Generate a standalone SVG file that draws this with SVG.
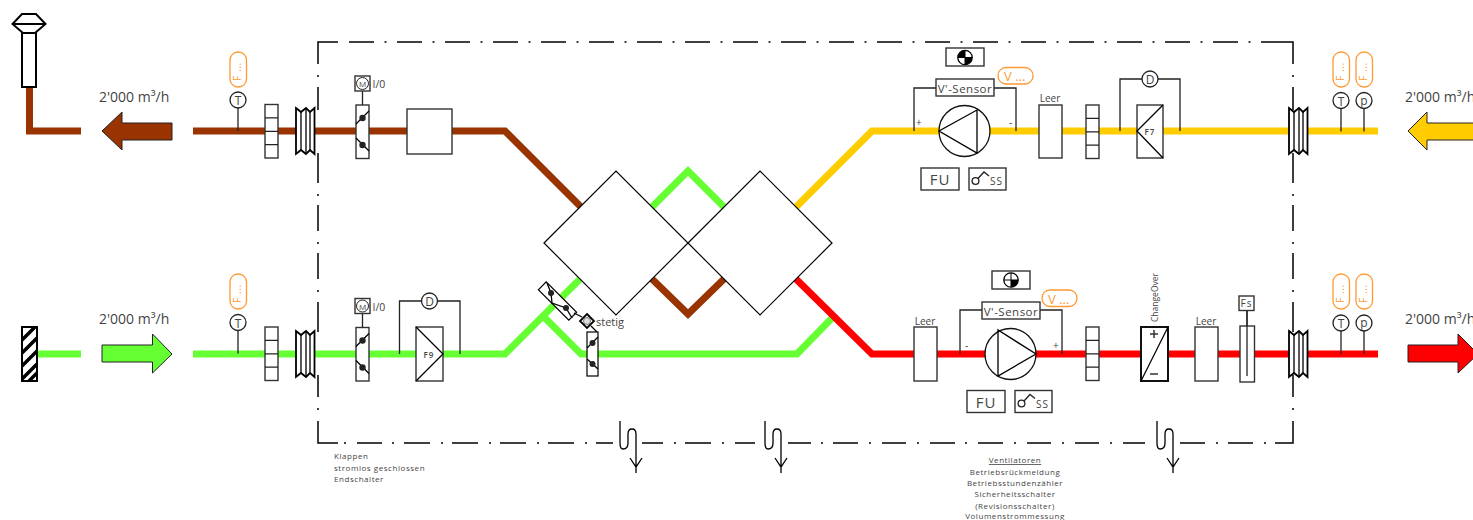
<svg xmlns="http://www.w3.org/2000/svg" xmlns:xlink="http://www.w3.org/1999/xlink" width="1473" height="520" viewBox="0 0 1473 520">
<style>
text{font-family:"Open Sans","Liberation Sans",sans-serif;fill:#444}
.duct{fill:none;stroke-width:7;stroke-linejoin:miter}
.br{stroke:#993300}.gr{stroke:#66ff33}.ye{stroke:#ffcc00}.re{stroke:#ff0000}
.box{fill:#fff;stroke:#333;stroke-width:1.4}
.thin{fill:none;stroke:#222;stroke-width:1.3}
.bk{fill:none;stroke:#000;stroke-width:1.3}
.hx{fill:#fff;stroke:#000;stroke-width:1.2}
.frame{fill:none;stroke:#000;stroke-width:1.5}
.dash{stroke-dasharray:25 10.5 2 10.5}
.cap{fill:#fff;stroke:#ff9933;stroke-width:1.3}
.capt{fill:#ff9933;font-size:10px}
.arr{stroke:#222;stroke-width:1}
.flow{font-size:14px}
.small{font-size:10px;text-anchor:middle}
.note{font-size:8px;letter-spacing:.55px}
.mid{text-anchor:middle}
</style>
<defs>
<g id="ladder"><rect class="box" x="0" y="0" width="13" height="53.5"/><path class="thin" d="M0 13.4H13M0 26.8H13M0 40.1H13"/></g>
<g id="bellows"><path fill="#fff" stroke="#000" stroke-width="1.8" d="M0 0L5 4 10 0 14 4 18.5 0V46L14 42 10 46 5 42 0 46Z"/><path class="bk" d="M5 4V42M10 0V46M14 4V42"/></g>
<g id="damper"><rect class="box" x="0" y="0" width="13" height="53.5"/><path class="bk" d="M0 19L13 6M0 33L13 46"/><circle cx="6.5" cy="13" r="3.2" fill="#222"/><circle cx="6.5" cy="40" r="3.2" fill="#222"/></g>
<g id="motor"><path class="thin" d="M7.5 15V29"/><rect x="0" y="0" width="15" height="15" class="box" stroke-width="1.6"/><circle cx="7.5" cy="7.5" r="6" fill="#fff" stroke="#222"/><text x="7.5" y="11" class="mid" font-size="8">M</text><text x="17.5" y="12" font-size="10.5">I/0</text></g>
<g id="cap"><rect class="cap" x="0" y="0" width="16.5" height="35" rx="8" ry="8"/><text class="capt" transform="translate(10.5 29) rotate(-90)" letter-spacing=".6">F ...</text></g>
<g id="vcap"><rect class="cap" x="0" y="0" width="35" height="16.5" rx="8" ry="8"/><text x="6" y="13.5" style="fill:#ff9933;font-size:13px">V ...</text></g>
<g id="cable"><path class="bk" d="M620 421V443Q620 449 623 449 628 449 628 443V434Q628 429 632 429 636 429 636 434V473M630 458L636 467 642 458"/></g>
<g id="ss"><rect class="box" x="0" y="0" width="37" height="22"/><circle cx="6.5" cy="13" r="3.4" fill="#fff" stroke="#222" stroke-width="1.3"/><path class="thin" d="M9 10.5L15 4 20 8"/><text x="21" y="17" font-size="10" letter-spacing="1">SS</text></g>
<g id="fu"><rect class="box" x="0" y="0" width="38" height="22"/><text x="19" y="17" class="mid" font-size="15" letter-spacing="1">FU</text></g>
<g id="sens"><path class="thin" d="M0 8V31"/><circle cx="0" cy="0" r="8" fill="#fff" stroke="#222" stroke-width="1.3"/></g>
</defs>

<g id="connectors">
<path class="duct br" d="M29.500 87V131H81"/>
<path class="duct br" d="M193 131H505L581 207"/>
<path class="duct gr" d="M38 354H81"/>
<path class="duct gr" d="M193 354H505L581 278"/>
<path class="duct gr" d="M543 316L581 354H797L832 318"/>
<path class="duct gr" d="M652 207L688 171 724 207"/>
<path class="duct br" d="M652 279L688 314 724 279"/>
<path class="duct ye" d="M796 207L872 131H1378"/>
<path class="duct re" d="M796 279L872 354H1378"/>
<path class="thin" d="M399.500 354V301H460V354"/>
<path class="thin" d="M914 131V88H1016V131"/>
<path class="thin" d="M960 354V310H1062V354"/>
<path class="thin" d="M1120 131V79H1180V131"/>
<path class="thin" d="M1247 310V376"/>
</g>

<g id="frame">
<path class="frame" d="M318 64V42H338"/>
<line class="frame dash" x1="349" y1="42" x2="1271" y2="42"/>
<path class="frame" d="M1271 42H1293V64"/>
<path class="frame" d="M318 75V77M318 87V110M318 153V183M318 194V196M318 205V231M318 242V244M318 253V279M318 290V292M318 302V332M318 375V397M318 408V410"/>
<path class="frame" d="M1293 75V77M1293 87V110M1293 153V183M1293 194V196M1293 205V231M1293 242V244M1293 253V279M1293 290V292M1293 302V332M1293 375V397M1293 408V410"/>
<path class="frame" d="M318 421V443H338M344 443H346M357 443H382M392 443H394M404 443H430M441 443H443M452 443H478M489 443H491M500 443H526M537 443H539M548 443H574M585 443H587M596 443H613M642 443H663M674 443H676M685 443H711M722 443H724M735 443H755M788 443H811M821 443H823M833 443H858M869 443H871M882 443H906M917 443H919M930 443H955M965 443H967M978 443H1003M1014 443H1016M1027 443H1051M1062 443H1064M1075 443H1099M1110 443H1112M1123 443H1145M1180 443H1205M1216 443H1218M1228 443H1253M1264 443H1266M1275 443H1293V421"/>
</g>

<g id="intake-hood"><path fill="#fff" stroke="#000" stroke-width="2" d="M22 33H36V87H22Z"/><path fill="#fff" stroke="#000" stroke-width="2" d="M12.500 24L22 14H36L45.500 24 35 33H23ZM12.500 24H45.500"/></g>
<g id="wall-grille"><rect x="22" y="327" width="15" height="54" fill="#fff" stroke="#000" stroke-width="2"/><path stroke="#000" stroke-width="3.500" d="M22 340L35 327M22 353L37 338M22 366L37 351M22 379L37 364M29 381L37 373"/></g>

<g id="arrow-exhaust"><polygon class="arr" fill="#993300" points="102,131 122,112 122,123 172,123 172,140 122,140 122,150"/></g>
<g id="arrow-outdoor"><polygon class="arr" fill="#66ff33" points="172,354 152.500,334 152.500,345 102,345 102,362 152.500,362 152.500,373"/></g>
<g id="arrow-extract"><polygon class="arr" fill="#ffcc00" points="1408,131 1427,112 1427,123 1480,123 1480,140 1427,140 1427,150"/></g>
<g id="arrow-supply"><polygon class="arr" fill="#ff0000" points="1478,354 1458,334 1458,345 1408,345 1408,362 1458,362 1458,373"/></g>
<g id="flow-labels">
<text class="flow" x="99" y="102">2'000 m³/h</text>
<text class="flow" x="99" y="324">2'000 m³/h</text>
<text class="flow" x="1405" y="102">2'000 m³/h</text>
<text class="flow" x="1405" y="324">2'000 m³/h</text>
</g>

<g id="exchanger">
<polygon class="hx" points="544,243 616,171 688,243 616,315"/>
<polygon class="hx" points="688,243 760,171 832,243 760,315"/>
</g>

<g id="sensor-t-ex"><use href="#cap" x="230" y="52"/><use href="#sens" x="238" y="100"/><text x="238" y="105" class="mid" font-size="12">T</text></g>
<g id="filter-ladder-ex"><use href="#ladder" x="265" y="104.500"/></g>
<g id="bellows-ex"><use href="#bellows" x="296" y="108"/></g>
<g id="damper-ex"><use href="#damper" x="356" y="105"/><use href="#motor" x="355" y="76"/></g>
<g id="heater-box"><rect class="box" x="407" y="109" width="45" height="45"/></g>

<g id="sensor-t-oa"><use href="#cap" x="230" y="274"/><use href="#sens" x="238" y="322.500"/><text x="238" y="327.500" class="mid" font-size="12">T</text></g>
<g id="filter-ladder-oa"><use href="#ladder" x="265" y="327"/></g>
<g id="bellows-oa"><use href="#bellows" x="296" y="331"/></g>
<g id="damper-oa"><use href="#damper" x="356" y="327.500"/><use href="#motor" x="355" y="298.500"/></g>
<g id="filter-f9"><circle cx="429.500" cy="301" r="8" fill="#fff" stroke="#222" stroke-width="1.3"/><text x="429.500" y="305.500" class="mid" font-size="12">D</text><rect class="box" x="416" y="327" width="27" height="54"/><path class="bk" d="M416 327L443 354 416 381"/><text x="429" y="358" class="mid" font-size="8" letter-spacing="1" font-weight="600">F9</text></g>

<g id="bypass-damper">
<rect class="hx" x="-5.500" y="-21.500" width="11" height="43" transform="translate(557.500 301) rotate(-45)"/>
<path class="bk" d="M547 283L551 293 552 303 566 308 572 318"/>
<circle cx="551" cy="293" r="3" fill="#222"/><circle cx="566" cy="308" r="3" fill="#222"/>
<path class="bk" d="M574 313L582 317M591 326L597 332"/>
<polygon fill="#fff" stroke="#000" stroke-width="1.800" points="587,314 594,321 587,328 580,321"/>
<circle cx="587" cy="321" r="3.500" fill="#ddd" stroke="#555" stroke-width=".8"/>
<text x="596" y="326" font-size="11">stetig</text>
<rect class="hx" x="587" y="332" width="11" height="44"/>
<path class="bk" d="M587 348L598 337M587 359L598 369"/>
<circle cx="592.500" cy="343" r="3" fill="#222"/><circle cx="592.500" cy="364" r="3" fill="#222"/>
</g>

<g id="fan-ex">
<circle cx="964.500" cy="131" r="25.500" fill="#fff" stroke="#111" stroke-width="1.300"/>
<path class="bk" d="M977 110V153L939 131Z"/>
<rect class="box" x="936" y="79" width="58" height="17"/><text x="965" y="92.500" class="mid" font-size="11.500" letter-spacing=".5">V'-Sensor</text>
<text x="916" y="126" font-size="10">+</text><text x="1009" y="126" font-size="10">-</text>
<rect class="box" x="946" y="48" width="38" height="18"/>
<circle cx="965" cy="57.500" r="7.200" fill="#fff" stroke="#000" stroke-width="1.300"/>
<path fill="#000" d="M965 57.500V50.300A7.200 7.200 0 0 0 957.800 57.500ZM965 57.500V64.700A7.200 7.200 0 0 0 972.200 57.500Z"/>
<path stroke="#000" d="M957.800 57.500H972.200M965 50.300V64.700"/>
<use href="#vcap" x="998" y="67.500"/>
<use href="#fu" x="921" y="168"/><use href="#ss" x="969" y="168"/>
</g>
<g id="leer-ex"><rect class="box" x="1039" y="105" width="23" height="53"/><text x="1050" y="102" class="small" font-size="10">Leer</text></g>
<g id="filter-ladder-ex2"><use href="#ladder" x="1086" y="105"/></g>
<g id="filter-f7"><circle cx="1150" cy="79" r="8" fill="#fff" stroke="#222" stroke-width="1.300"/><text x="1150" y="83.500" class="mid" font-size="12">D</text><rect class="box" x="1137" y="105" width="26" height="53"/><path class="bk" d="M1163 105L1137 131 1163 158"/><text x="1150" y="135" class="mid" font-size="8" letter-spacing="1" font-weight="600">F7</text></g>
<g id="bellows-ea"><use href="#bellows" x="1289" y="108"/></g>
<g id="sensor-t-ea"><use href="#cap" x="1333" y="52"/><use href="#sens" x="1341" y="100.500"/><text x="1341" y="105.500" class="mid" font-size="12">T</text></g>
<g id="sensor-p-ea"><use href="#cap" x="1356" y="52"/><use href="#sens" x="1364" y="100.500"/><text x="1364" y="104.500" class="mid" font-size="12">p</text></g>

<g id="leer-su1"><rect class="box" x="914" y="327" width="23" height="54"/><text x="925" y="325" class="small">Leer</text></g>
<g id="fan-su">
<circle cx="1010.500" cy="354" r="25.500" fill="#fff" stroke="#111" stroke-width="1.300"/>
<path class="bk" d="M998 330V376L1036 354Z"/>
<rect class="box" x="982" y="302" width="58" height="17"/><text x="1011" y="315.500" class="mid" font-size="11.500" letter-spacing=".5">V'-Sensor</text>
<text x="965" y="349" font-size="10">-</text><text x="1053" y="349" font-size="10">+</text>
<rect class="box" x="992" y="271" width="38" height="18"/>
<circle cx="1011" cy="280" r="7.200" fill="#fff" stroke="#000" stroke-width="1.300"/>
<path fill="#000" d="M1011 280V287.200A7.200 7.200 0 0 0 1018.200 280Z"/>
<path stroke="#000" d="M1003.800 280H1018.200M1011 272.800V287.200"/>
<use href="#vcap" x="1042" y="290"/>
<use href="#fu" x="967" y="390.500"/><use href="#ss" x="1015" y="390.500"/>
</g>
<g id="filter-ladder-su"><use href="#ladder" x="1086" y="327"/></g>
<g id="changeover"><rect fill="#fff" stroke="#111" stroke-width="2" x="1141" y="327" width="27" height="54"/><path class="bk" d="M1141 381L1168 327"/><path stroke="#333" stroke-width="1.500" d="M1150 334H1158M1154 330V338M1150 374H1158"/><text transform="translate(1158 322) rotate(-90)" font-size="8.500">ChangeOver</text></g>
<g id="leer-su2"><rect class="box" x="1195" y="327" width="23" height="54"/><text x="1206" y="325" class="small">Leer</text></g>
<g id="frost"><rect class="box" x="1240" y="326" width="14.500" height="56"/><rect class="box" x="1239" y="296" width="15" height="14.500"/><text x="1246.500" y="307" class="mid" font-size="10" letter-spacing="1">Fs</text><path class="thin" stroke-width="1.300" d="M1247 310.500V376"/></g>
<g id="bellows-su"><use href="#bellows" x="1289" y="331"/></g>
<g id="sensor-t-su"><use href="#cap" x="1333" y="274"/><use href="#sens" x="1341" y="323"/><text x="1341" y="328" class="mid" font-size="12">T</text></g>
<g id="sensor-p-su"><use href="#cap" x="1356" y="274"/><use href="#sens" x="1364" y="323"/><text x="1364" y="327" class="mid" font-size="12">p</text></g>

<g id="cables"><use href="#cable"/><use href="#cable" x="145"/><use href="#cable" x="537"/></g>

<g id="note-dampers">
<text class="note" x="334" y="459">Klappen</text>
<text class="note" x="334" y="471">stromlos geschlossen</text>
<text class="note" x="334" y="482">Endschalter</text>
</g>
<g id="note-fans">
<text class="note mid" x="1015" y="463" text-decoration="underline">Ventilatoren</text>
<text class="note mid" x="1015" y="475">Betriebsrückmeldung</text>
<text class="note mid" x="1015" y="486">Betriebsstundenzähler</text>
<text class="note mid" x="1015" y="497">Sicherheitsschalter</text>
<text class="note mid" x="1015" y="509">(Revisionsschalter)</text>
<text class="note mid" x="1015" y="519">Volumenstrommessung</text>
</g>
</svg>
